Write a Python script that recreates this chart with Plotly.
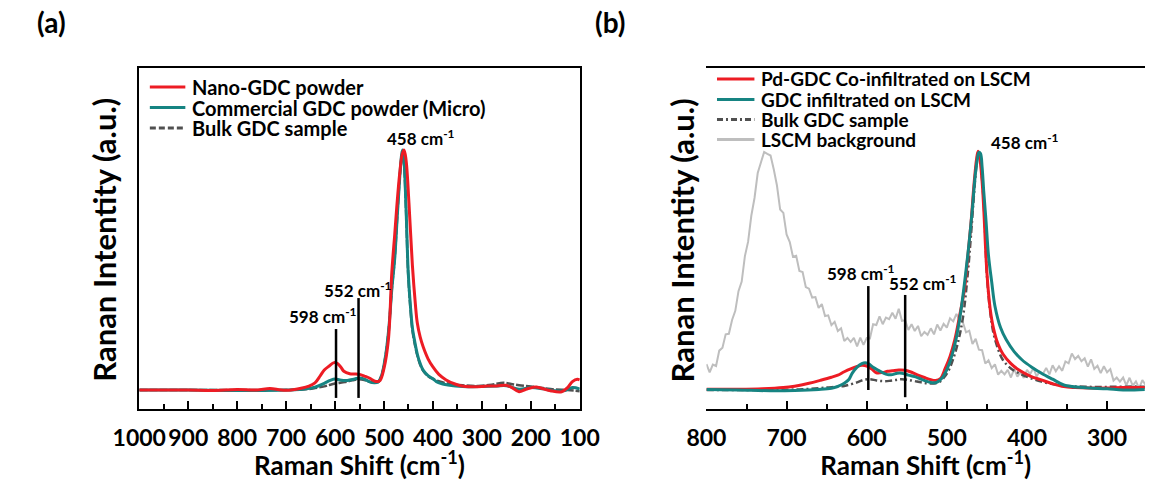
import plotly.graph_objects as go

# ---------------- Panel (a): GDC powders ----------------
nano_x = [1000, 950, 900, 850, 800, 760, 733, 710, 690, 667, 655, 641, 630, 622, 612, 602,
          595, 588, 582, 570, 560, 550, 540, 530, 520, 514, 508, 500, 491, 484, 478, 474,
          468, 463, 459, 455, 449, 442, 436, 432, 426, 420, 410, 400, 388, 373, 355, 341,
          320, 300, 288, 270, 251, 240, 224, 210, 191, 175, 160, 137, 125, 115, 105, 100]
nano_y = [0.0, 0.0, 0.0, -0.002, 0.002, 0.0, 0.006, 0.0, 0.0, 0.008, 0.015, 0.03, 0.06, 0.083,
          0.10, 0.114, 0.11, 0.095, 0.078, 0.068, 0.067, 0.065, 0.058, 0.05, 0.038, 0.035,
          0.04, 0.09, 0.21, 0.49, 0.65, 0.76, 0.9, 0.98, 1.0, 0.96, 0.78, 0.52, 0.36, 0.28,
          0.22, 0.18, 0.13, 0.096, 0.065, 0.042, 0.025, 0.017, 0.014, 0.015, 0.017, 0.017,
          0.02, 0.012, -0.007, 0.003, 0.013, 0.005, -0.003, -0.007, 0.01, 0.035, 0.045, 0.042]

micro_x = [1000, 900, 800, 700, 667, 641, 622, 610, 600, 590, 575, 560, 550, 540, 530, 520,
           512, 505, 497, 490, 484, 478, 473, 468, 464, 462, 459, 455, 450.5, 446, 442, 437,
           432, 426, 420, 410, 400, 393, 380, 354, 320, 300, 270, 250, 224, 200, 175, 150,
           130, 115, 100]
micro_y = [0.0, 0.0, -0.002, 0.0, 0.003, 0.012, 0.028, 0.04, 0.046, 0.042, 0.04, 0.046, 0.05,
           0.045, 0.035, 0.03, 0.033, 0.06, 0.14, 0.26, 0.42, 0.55, 0.72, 0.88, 0.98, 1.0,
           0.95, 0.76, 0.49, 0.35, 0.26, 0.2, 0.15, 0.11, 0.083, 0.06, 0.047, 0.035, 0.025,
           0.017, 0.014, 0.015, 0.017, 0.018, 0.003, 0.01, 0.005, -0.003, -0.002, 0.01, 0.004]

bulk_a_x = [1000, 900, 800, 700, 660, 641, 622, 610, 598, 580, 565, 552, 540, 530, 520, 512,
            505, 497, 490, 484, 478, 473, 468, 464, 462, 459, 455, 450.5, 446, 442, 437, 432,
            426, 420, 410, 400, 390, 370, 340, 308, 280, 256, 240, 224, 200, 175, 150, 125, 100]
bulk_a_y = [0.0, 0.0, 0.0, 0.0, 0.003, 0.008, 0.015, 0.022, 0.028, 0.033, 0.04, 0.045, 0.042,
            0.034, 0.03, 0.033, 0.06, 0.14, 0.26, 0.42, 0.55, 0.72, 0.88, 0.97, 0.99, 0.94,
            0.75, 0.48, 0.34, 0.25, 0.19, 0.145, 0.105, 0.08, 0.058, 0.046, 0.038, 0.027,
            0.02, 0.017, 0.022, 0.03, 0.025, 0.02, 0.015, 0.008, 0.002, 0.0, -0.005]

# ---------------- Panel (b): infiltrated LSCM ----------------
pd_x = [800, 760, 730, 704, 690, 672, 658, 644, 636, 628, 620, 612, 606, 600, 594, 588, 580,
        574, 568, 560, 552, 544, 536, 528, 520, 514, 508, 502, 496, 490, 484, 478, 474, 470,
        466, 463, 461, 459, 456, 454, 450, 446, 442, 436, 430, 420, 410, 396, 382, 368, 354,
        340, 322, 300, 280, 253]
pd_y = [0.003, 0.003, 0.005, 0.01, 0.016, 0.028, 0.04, 0.053, 0.062, 0.076, 0.088, 0.098,
        0.103, 0.10, 0.088, 0.072, 0.073, 0.078, 0.08, 0.083, 0.082, 0.074, 0.062, 0.052,
        0.043, 0.040, 0.048, 0.09, 0.14, 0.21, 0.31, 0.42, 0.55, 0.69, 0.86, 0.96, 0.995,
        0.97, 0.87, 0.76, 0.49, 0.34, 0.26, 0.19, 0.15, 0.11, 0.083, 0.058, 0.042, 0.026,
        0.014, 0.01, 0.008, 0.008, 0.01, 0.01]

gdc_x = [800, 760, 720, 690, 660, 644, 636, 628, 622, 618, 612, 606, 602, 598, 592, 586, 580,
         574, 568, 562, 556, 548, 540, 532, 524, 518, 512, 506, 500, 494, 488, 482, 476, 472,
         468, 465, 462, 460, 458, 456, 454, 451, 448, 444, 440, 433, 426, 416, 406, 394, 382,
         368, 354, 330, 300, 280, 253]
gdc_y = [0.002, 0.0, -0.003, -0.002, 0.002, 0.007, 0.015, 0.028, 0.045, 0.07, 0.095, 0.11,
         0.114, 0.11, 0.095, 0.083, 0.072, 0.064, 0.064, 0.07, 0.07, 0.062, 0.056, 0.045,
         0.035, 0.03, 0.033, 0.05, 0.085, 0.14, 0.22, 0.34, 0.5, 0.62, 0.76, 0.88, 0.96,
         0.99, 0.985, 0.93, 0.83, 0.7, 0.56, 0.45, 0.35, 0.26, 0.21, 0.16, 0.125, 0.095,
         0.07, 0.045, 0.021, 0.01, 0.005, 0.0, 0.002]

bulk_b_x = [800, 720, 680, 650, 628, 612, 604, 596, 588, 580, 572, 564, 556, 548, 540, 532,
            524, 516, 510, 504, 498, 492, 486, 480, 474, 470, 466, 463, 461, 459, 456, 453,
            450, 446, 442, 436, 430, 420, 410, 396, 382, 368, 354, 340, 320, 300, 280, 253]
bulk_b_y = [0.0, 0.0, 0.003, 0.01, 0.017, 0.032, 0.042, 0.045, 0.04, 0.037, 0.038, 0.042,
            0.045, 0.042, 0.037, 0.032, 0.028, 0.027, 0.032, 0.05, 0.08, 0.13, 0.2, 0.3, 0.48,
            0.64, 0.82, 0.94, 0.99, 0.98, 0.88, 0.72, 0.48, 0.33, 0.24, 0.17, 0.125, 0.09,
            0.07, 0.05, 0.035, 0.025, 0.018, 0.015, 0.013, 0.013, 0.014, 0.014]

lscm_x = list(range(800, 251, -4))
lscm_y = [0.108, 0.073, 0.106, 0.100, 0.164, 0.176, 0.232, 0.234, 0.292, 0.330, 0.412, 0.452,
          0.558, 0.618, 0.726, 0.800, 0.904, 0.946, 0.992, 0.984, 0.977, 0.920, 0.852, 0.752,
          0.738, 0.648, 0.616, 0.555, 0.559, 0.496, 0.492, 0.429, 0.422, 0.385, 0.387, 0.342,
          0.358, 0.308, 0.311, 0.270, 0.284, 0.246, 0.257, 0.204, 0.217, 0.200, 0.217, 0.182,
          0.218, 0.188, 0.216, 0.215, 0.274, 0.271, 0.307, 0.274, 0.302, 0.295, 0.322, 0.297,
          0.338, 0.288, 0.291, 0.250, 0.274, 0.246, 0.267, 0.224, 0.242, 0.230, 0.257, 0.232,
          0.273, 0.248, 0.276, 0.260, 0.299, 0.286, 0.317, 0.289, 0.282, 0.240, 0.247, 0.192,
          0.213, 0.168, 0.166, 0.110, 0.124, 0.091, 0.107, 0.064, 0.080, 0.065, 0.084, 0.052,
          0.088, 0.056, 0.074, 0.050, 0.084, 0.066, 0.092, 0.057, 0.077, 0.068, 0.092, 0.065,
          0.103, 0.078, 0.099, 0.080, 0.119, 0.111, 0.152, 0.129, 0.142, 0.120, 0.132, 0.097,
          0.128, 0.088, 0.101, 0.070, 0.099, 0.074, 0.087, 0.039, 0.052, 0.035, 0.052, 0.019,
          0.051, 0.018, 0.036, 0.008, 0.041, 0.021]

# marked bands (cm-1) and the main F2g band
band_marks = [598, 552]
main_band = 458

RED = "#ED1C24"
TEAL = "#168482"
DARK = "#505050"
LIGHT = "#BEBEBE"
FONT = "Lato"
W, H = 1165, 481


def px(v):
    return v / W


def py(v):
    return (H - v) / H


# series: (x, y, label, color, width, trace dash, legend-sample dash)
series_a = [
    (bulk_a_x, bulk_a_y, "Bulk GDC sample", DARK, 2.5, "8px,2px", "6px,3px"),
    (micro_x, micro_y, "Commercial GDC powder (Micro)", TEAL, 3, "solid", "solid"),
    (nano_x, nano_y, "Nano-GDC powder", RED, 3, "solid", "solid"),
]
series_b = [
    (lscm_x, lscm_y, "LSCM background", LIGHT, 2, "solid", "solid"),
    (bulk_b_x, bulk_b_y, "Bulk GDC sample", DARK, 2.5, "7px,3px,2px,3px", "6px,3px,2px,3px"),
    (pd_x, pd_y, "Pd-GDC Co-infiltrated on LSCM", RED, 3, "solid", "solid"),
    (gdc_x, gdc_y, "GDC infiltrated on LSCM", TEAL, 3, "solid", "solid"),
]

fig = go.Figure()
for series, xa, ya in ((series_a, "x", "y"), (series_b, "x2", "y2")):
    for xs, ys, name, col, lw, dash, _ in series:
        fig.add_trace(go.Scatter(x=xs, y=ys, mode="lines", name=name, showlegend=False,
                                 line=dict(color=col, width=lw, dash=dash,
                                           shape="linear" if col == LIGHT else "spline"),
                                 xaxis=xa, yaxis=ya))


def xaxis_style(rng, dom):
    return dict(range=rng, domain=dom, showline=True, linecolor="black", linewidth=2,
                mirror=True, showgrid=False, zeroline=False, ticks="inside", ticklen=8,
                tickwidth=2, tickcolor="black", tick0=0, dtick=100, ticklabelstandoff=7,
                minor=dict(dtick=50, ticks="inside", ticklen=5, tickwidth=2, tickcolor="black"),
                tickfont=dict(family=FONT, size=23, color="black", weight="bold"),
                title=dict(text="Raman Shift (cm<sup>-1</sup>)", standoff=11,
                           font=dict(family=FONT, size=26, color="black", weight="bold")))


def yaxis_style(rng, dom, mirror):
    return dict(range=rng, domain=dom, showline=True, linecolor="black", linewidth=2,
                mirror=mirror, showgrid=False, zeroline=False, ticks="", showticklabels=False)


# frame top / bottom in pixels; intensity 0 sits at y=390 px, 1.0 at y=150 px
TOP, BOT = 68, 409
Y_RANGE = [(390 - BOT) / 240, (390 - TOP) / 240]
fig.update_layout(
    width=W, height=H, margin=dict(l=0, r=0, t=0, b=0),
    paper_bgcolor="white", plot_bgcolor="white", showlegend=False,
    font=dict(family=FONT, color="black"),
    xaxis=xaxis_style([1000, 100], [px(117), px(576)]),
    yaxis=yaxis_style(Y_RANGE, [py(BOT), py(TOP)], True),
    xaxis2=xaxis_style([800, 252.7], [px(708), 1.0]),
    yaxis2=yaxis_style(Y_RANGE, [py(BOT), py(TOP)], False),
)

shapes = []
ann = []

# legend blocks drawn in paper space
legend_a = dict(x0=128, x1=165, tx=170, rows=[87, 107.5, 128], size=20,
                order=[2, 1, 0], series=series_a)
legend_b = dict(x0=719, x1=758, tx=763, rows=[79, 99.5, 119.5, 139.5], size=19,
                order=[2, 3, 1, 0], series=series_b)
for lg in (legend_a, legend_b):
    for row, idx in zip(lg["rows"], lg["order"]):
        _, _, name, col, lw, _, ldash = lg["series"][idx]
        shapes.append(dict(type="line", xref="paper", yref="paper",
                           x0=px(lg["x0"]), x1=px(lg["x1"]), y0=py(row), y1=py(row),
                           line=dict(color=col, width=3, dash=ldash)))
        ann.append(dict(x=px(lg["tx"]), y=py(row), xref="paper", yref="paper", text=name,
                        xanchor="left", yanchor="middle", showarrow=False,
                        font=dict(family=FONT, size=lg["size"], color="black", weight="bold")))

# band marker lines
spans_a = {598: (-0.033, 0.254), 552: (-0.033, 0.383)}
spans_b = {598: (0.0, 0.433), 552: (-0.03, 0.396)}
for w in band_marks:
    lo, hi = spans_a[w]
    shapes.append(dict(type="line", xref="x", yref="y", x0=w, x1=w, y0=lo, y1=hi,
                       line=dict(color="black", width=2.5)))
    lo, hi = spans_b[w]
    shapes.append(dict(type="line", xref="x2", yref="y2", x0=w, x1=w, y0=lo, y1=hi,
                       line=dict(color="black", width=2.5)))
fig.update_layout(shapes=shapes)

lab_font = dict(family=FONT, size=17, color="black", weight="bold")


def band_label(w, xpos, ypos, ax):
    return dict(x=xpos, y=ypos, xref="x" + ax, yref="y" + ax, text=f"{w} cm<sup>-1</sup>",
                xanchor="center", yanchor="middle", showarrow=False, font=lab_font)


ann += [
    band_label(598, 625, 0.3125, ""),
    band_label(552, 553, 0.42, ""),
    band_label(main_band, 425, 1.054, ""),
    band_label(598, 607, 0.49, "2"),
    band_label(552, 530, 0.446, "2"),
    band_label(main_band, 402, 1.0375, "2"),
]

for lab, xc in (("(a)", 26), ("(b)", 607)):
    ann.append(dict(x=px(xc), y=py(22), xref="paper", yref="paper", text=lab,
                    xanchor="center", yanchor="middle", showarrow=False,
                    font=dict(family=FONT, size=28, color="black", weight="bold")))
title_font = dict(family=FONT, size=31, color="black", weight="bold")
for xc in (80, 683):
    ann.append(dict(x=px(xc), y=py(240), xref="paper", yref="paper",
                    text="Ranan Intentity (a.u.)", textangle=-90, xanchor="center",
                    yanchor="middle", showarrow=False, font=title_font))
fig.update_layout(annotations=ann)

fig.write_html("out.html")
